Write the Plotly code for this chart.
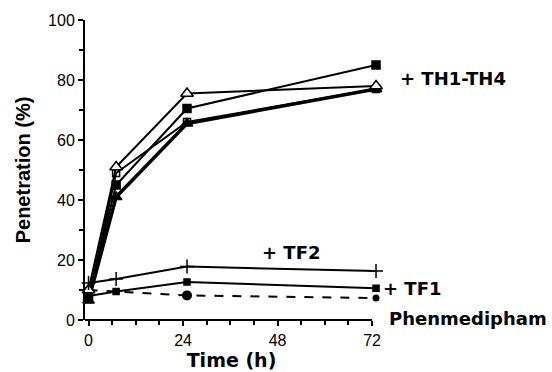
import plotly.graph_objects as go

# Times (h) as plotted
t = [0, 7, 25, 73]

# TH1-TH4 series (% penetration)
th_open_tri = [10, 51, 75.5, 78]
th_fill_sq = [8, 45, 70.5, 85]
th_open_sq = [7, 49, 66, 77]
th_fill_tri = [6.5, 41, 65.5, 77]

tf2 = [12.3, 13.7, 17.8, 16.3]
tf1 = [8, 9.5, 12.7, 10.6]
phen = [10, 9.5, 8.2, 7.3]

x_ticks = [0, 24, 48, 72]
y_ticks = [0, 20, 40, 60, 80, 100]

fig = go.Figure()

def add(y, symbol, size, width=2, dash="solid", fill="black", mlw=1.5):
    fig.add_trace(go.Scatter(
        x=t, y=y, mode="lines+markers", cliponaxis=False,
        line=dict(color="black", width=width, dash=dash),
        marker=dict(symbol=symbol, size=size, color=fill, opacity=1,
                    line=dict(color="black", width=mlw)),
        showlegend=False))

add(phen, "circle", [8, 0, 10, 7], dash="dash", mlw=0)
add(th_fill_tri, "triangle-up", 10, width=3.5)
add(th_open_sq, "square-open", 7)
add(th_fill_sq, "square", 8)
add(th_open_tri, "triangle-up", 11, fill="white")
add(tf2, "cross-thin", 10)
add(tf1, "square", 6)

ann_font = dict(family="DejaVu Sans", size=18, color="black")
anns = [("<b>+ TH1-TH4</b>", 398, 78),
        ("<b>+ TF2</b>", 260, 252),
        ("<b>+ TF1</b>", 381, 288),
        ("<b>Phenmedipham</b>", 387, 318)]

L, R, T, B = 85, 174, 20, 52
W, H = 552, 372
pw, ph = W - L - R, H - T - B
for txt, x, y in anns:
    fig.add_annotation(text=txt, x=(x - L) / pw, y=(H - B - y) / ph,
                       xref="paper", yref="paper",
                       showarrow=False, xanchor="left", yanchor="middle",
                       font=ann_font)

# x-axis baseline ending at the last tick
fig.add_shape(type="line", xref="x", yref="paper", x0=-0.9, x1=x_ticks[-1],
              y0=0, y1=0, line=dict(color="black", width=2))

fig.update_layout(
    width=W, height=H,
    margin=dict(l=L, r=R, t=T, b=B, pad=0, autoexpand=False),
    paper_bgcolor="white", plot_bgcolor="white",
    font=dict(family="Liberation Sans", size=16, color="black"),
    xaxis=dict(range=[-0.9, 73.5], tickvals=x_ticks, showgrid=False, zeroline=False,
               showline=False, automargin=False,
               ticks="outside", ticklen=5, tickwidth=1.5, tickcolor="black",
               ticklabelstandoff=1,
               minor=dict(dtick=6, tick0=0, ticks="outside", ticklen=4, tickcolor="black", tickwidth=1.5),
               tickfont=dict(family="Liberation Sans", size=16),
               title=dict(text="<b>Time (h)</b>", standoff=4,
                          font=dict(family="DejaVu Sans", size=19))),
    yaxis=dict(range=[0, 100], tickvals=y_ticks, showgrid=False, zeroline=False,
               showline=True, linecolor="black", linewidth=2, automargin=False,
               ticks="outside", ticklen=5, tickwidth=1.5, tickcolor="black",
               minor=dict(dtick=10, tick0=0, ticks="outside", ticklen=4, tickcolor="black", tickwidth=1.5),
               tickfont=dict(family="Liberation Sans", size=16),
               title=dict(text="<b>Penetration (%)</b>", standoff=12,
                          font=dict(family="Liberation Sans", size=20))),
)

fig.write_html("out.html")
